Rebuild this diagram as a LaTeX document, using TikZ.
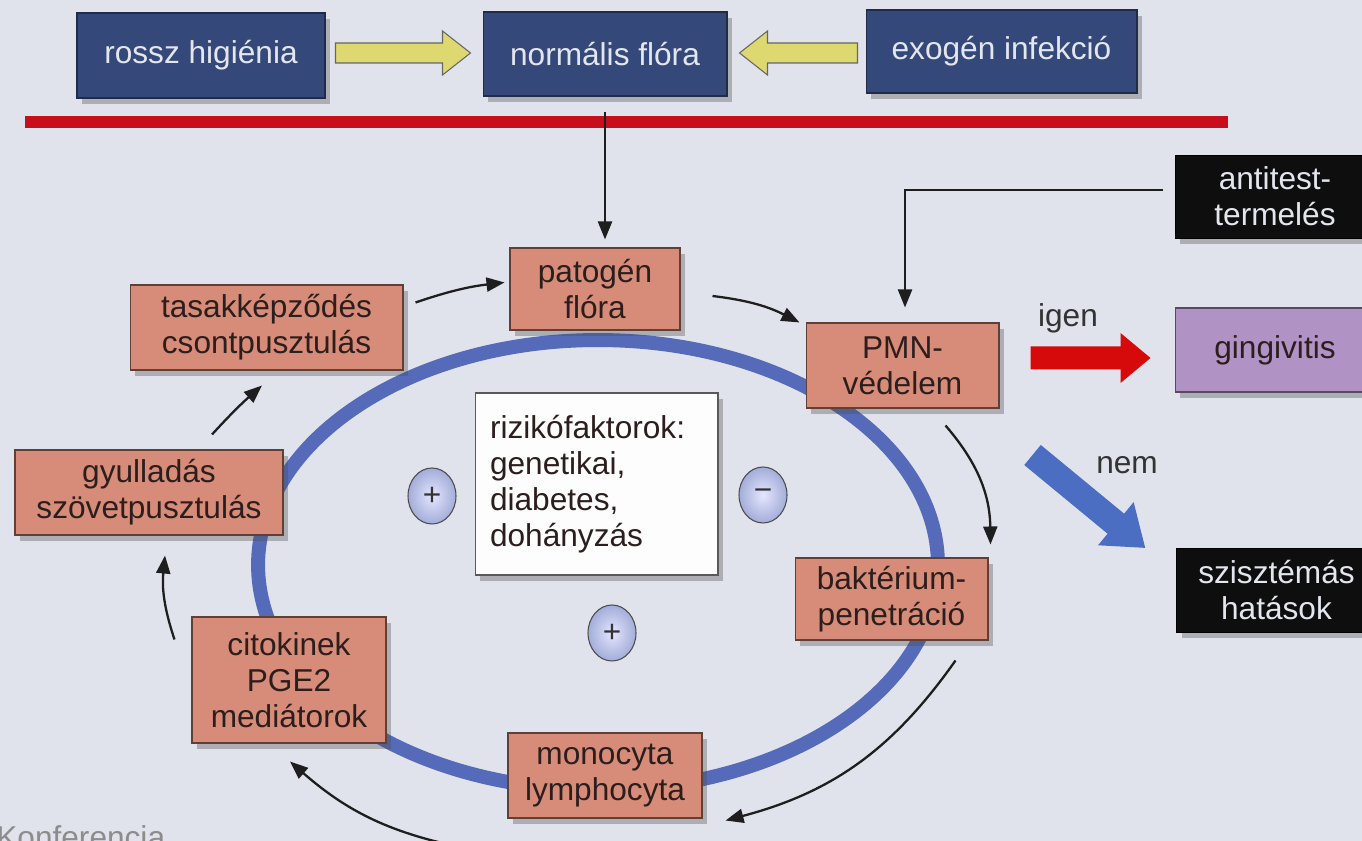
\documentclass[tikz,border=0pt]{standalone}
\usepackage{fontspec}
\setmainfont{Liberation Sans}
\usetikzlibrary{arrows.meta,shadows,calc,shapes.geometric}
\definecolor{bg}{RGB}{224,227,235}
\definecolor{navy}{RGB}{52,72,122}
\definecolor{navytext}{RGB}{228,230,238}
\definecolor{salmon}{RGB}{214,140,120}
\definecolor{salmontext}{RGB}{45,30,30}
\definecolor{violet}{RGB}{176,146,196}
\definecolor{blackbox}{RGB}{14,14,14}
\definecolor{ringblue}{RGB}{86,106,186}
\definecolor{redline}{RGB}{200,14,26}
\definecolor{redarrow}{RGB}{214,10,10}
\definecolor{yellowarrow}{RGB}{222,216,112}
\definecolor{bluearrow}{RGB}{76,110,194}
\definecolor{darkline}{RGB}{30,30,30}
\newcommand{\blockarr}[7]{%
  \begin{scope}[shift={#2}, rotate=#3]
    \draw[#1] (0,-#5) -- ({#4-#7},-#5) -- ({#4-#7},-#6) -- (#4,0) -- ({#4-#7},#6) -- ({#4-#7},#5) -- (0,#5) -- cycle;
  \end{scope}}
\tikzset{
  shade/.style={drop shadow={shadow xshift=0.1cm, shadow yshift=-0.12cm, opacity=0.35, fill=black!70}},
  navybox/.style={rectangle, fill=navy, draw=navy!60!black, line width=0.6pt, text=navytext, shade, minimum height=1.68cm, inner sep=2pt},
  pinkbox/.style={rectangle, fill=salmon, draw=salmon!45!black, line width=0.6pt, text=salmontext, shade, align=center, minimum height=1.68cm, inner sep=2pt},
  darkbox/.style={rectangle, fill=blackbox, draw=black, text=navytext, shade, align=center, minimum width=4cm, minimum height=1.66cm, inner sep=2pt},
  violetbox/.style={rectangle, fill=violet, draw=violet!50!black, line width=0.6pt, text=salmontext, shade, minimum width=4cm, minimum height=1.68cm, inner sep=2pt},
  riskbox/.style={rectangle, fill=white!92!bg, draw=black!65, line width=0.6pt, text=salmontext, shade, align=left, text width=4.26cm, inner sep=0.3cm, minimum height=3.64cm},
  signcirc/.style={ellipse, minimum width=0.96cm, minimum height=1.12cm, inner sep=0pt, draw=black!70, line width=0.6pt, inner color=white!90!blue, outer color=ringblue!55!white, text=black!80},
  flow/.style={draw=darkline, line width=1.3pt, -{Triangle[length=0.36cm,width=0.28cm]}},
  lbl/.style={text=black!80},
  yarrow/.style={fill=yellowarrow, draw=black!60, line width=0.6pt},
  rarrow/.style={fill=redarrow, draw=none},
  barrow/.style={fill=bluearrow, draw=none},
}
\begin{document}
\begin{tikzpicture}[x=0.02cm, y=0.02cm, font=\fontsize{18}{20.5}\selectfont]
\useasboundingbox (0,0) rectangle (1362,841);
\clip (0,0) rectangle (1362,841);
\fill[bg] (0,0) rectangle (1362,841);

% ring
\draw[ringblue, line width=0.28cm] (598,276) ellipse [x radius=6.8cm, y radius=4.5cm];

% top row
\node[navybox, minimum width=4.96cm, minimum height=1.70cm] (rossz) at (201,785.5) {rossz higiénia};
\node[navybox, minimum width=4.88cm] (normalis) at (605,787) {normális flóra};
\node[navybox, minimum width=5.42cm, minimum height=1.66cm] (exogen) at (1001.5,789.5) {exogén infekció};

% red line
\draw[redline, line width=0.24cm] (25,719) -- (1228,719);

% cycle boxes
\node[pinkbox, minimum width=3.4cm, minimum height=1.64cm] (patogen) at (595,552) {patogén\\flóra};
\node[pinkbox, minimum width=5.46cm, minimum height=1.70cm] (tasak) at (266.5,513.5) {tasakképződés\\csontpusztulás};
\node[pinkbox, minimum width=3.86cm, minimum height=1.70cm] (pmn) at (902.5,475.5) {PMN-\\védelem};
\node[pinkbox, minimum width=5.36cm, minimum height=1.70cm] (gyull) at (149,348.5) {gyulladás\\szövetpusztulás};
\node[pinkbox, minimum width=3.88cm, minimum height=2.52cm] (cito) at (289,161) {citokinek\\PGE2\\mediátorok};
\node[pinkbox, minimum width=3.88cm, minimum height=1.70cm] (mono) at (605,65.5) {monocyta\\lymphocyta};
\node[pinkbox, minimum width=3.86cm, minimum height=1.64cm] (bakt) at (891.5,242) {baktérium-\\penetráció};

% risk box and signs
\node[riskbox] (risk) at (596.5,357) {rizikófaktorok:\\genetikai,\\diabetes,\\dohányzás};
\node[signcirc] (plusA) at (432,345) {+};
\node[signcirc] (minus) at (763,346) {−};
\node[signcirc] (plusB) at (612,208) {+};

% right column
\node[darkbox] (anti) at (1275,644.5) {antitest-\\termelés};
\node[violetbox] (ging) at (1275,491) {gingivitis};
\node[darkbox, minimum height=1.68cm] (szisz) at (1276.5,251) {szisztémás\\hatások};

\node[lbl] (igen) at (1068,523) {igen};
\node[lbl] (nem) at (1127,376) {nem};

% block arrows
\blockarr{yarrow}{([shift={(10,2.5)}]rossz.east)}{0}{135}{10}{22}{28}
\blockarr{yarrow}{([shift={(-8,-1.5)}]exogen.west)}{180}{118}{10}{22}{28}
\blockarr{rarrow}{([shift={(31,7.5)}]pmn.east)}{0}{120}{11.5}{25}{30}
\blockarr{barrow}{([shift={(33,-89.5)}]pmn.east)}{-39.5}{146}{13}{28}{38}

% straight connectors
\draw[flow] ([yshift=-9]normalis.south) -- ([shift={(10,8)}]patogen.north);
\draw[flow] ([shift={(-12,6.5)}]anti.west) -| ([shift={(2.5,15)}]pmn.north);

% cycle connectors
\draw[flow] ([shift={(12,-18)}]tasak.north east) to[bend left=6] ([shift={(-5,-35)}]patogen.north west);
\draw[flow] ([shift={(32,-7)}]patogen.east) to[bend left=10] ([shift={(-6,0)}]pmn.north west);
\draw[flow] ([shift={(-54,-17)}]pmn.south east) to[bend left=20] ([shift={(2,13)}]bakt.north east);
\draw[flow] ([shift={(-33,-20)}]bakt.south east) to[bend left=20] ([shift={(23,-2)}]mono.south east);
\draw[flow] ([shift={(-40,-30)}]mono.south west) to[bend left=15] ([shift={(1,-18)}]cito.south);
\draw[flow] ([shift={(-17,-23)}]cito.north west) to[bend left=12] ([shift={(16,-20)}]gyull.south);
\draw[flow] ([shift={(63,15)}]gyull.north) to[bend left=3] ([shift={(-4.5,-15)}]tasak.south);

% cut-off caption
\node[anchor=base west, text=black!45, inner sep=0pt] (conf) at (-4,-8) {Konferencia};
\end{tikzpicture}
\end{document}
